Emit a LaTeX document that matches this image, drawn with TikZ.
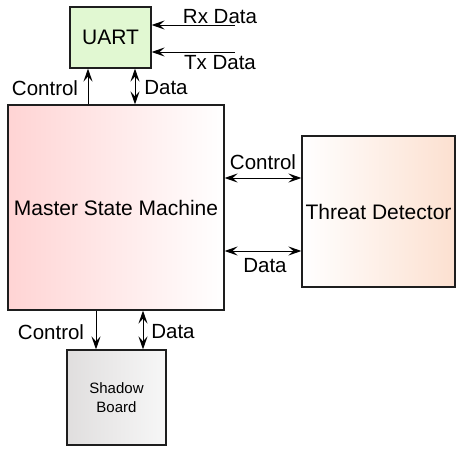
\documentclass[tikz,border=0pt]{standalone}
\usepackage{fontspec}
\setmainfont{Liberation Sans}
\usetikzlibrary{arrows.meta,calc}
\definecolor{uartfill}{RGB}{225,248,210}
\definecolor{msmleft}{RGB}{255,212,212}
\definecolor{tdright}{RGB}{252,224,208}
\definecolor{sbleft}{RGB}{224,222,222}
\definecolor{sbright}{RGB}{247,247,247}
\definecolor{edge}{RGB}{30,30,30}
\tikzset{
  block/.style={draw=edge, line width=1.2pt, inner sep=0pt, align=center,
    font=\fontsize{21}{24}\selectfont},
  lbl/.style={inner sep=0pt, anchor=center, font=\fontsize{20.5}{23}\selectfont},
  headsize/.style={length=13pt,width=9pt,inset=5pt},
  sig/.style={line width=1pt, draw=black,
    arrows={-Stealth[length=13pt,width=9pt,inset=5pt]}},
  bisig/.style={line width=1pt, draw=black,
    arrows={Stealth[length=13pt,width=9pt,inset=5pt]-Stealth[length=13pt,width=9pt,inset=5pt]}}
}
\begin{document}
\begin{tikzpicture}[x=1pt,y=-1pt]
\useasboundingbox (0,0) rectangle (456,450);

% blocks
\node[block, fill=uartfill, minimum width=81pt, minimum height=61pt] (uart) at (110.5,37.5) {UART};
\node[block, left color=msmleft, right color=white, minimum width=216pt, minimum height=205pt] (msm) at (116,207.5) {Master State Machine};
\node[block, left color=white, right color=tdright, minimum width=153pt, minimum height=151pt] (td) at (378.5,211.5) {Threat Detector};
\node[block, left color=sbleft, right color=sbright, minimum width=99pt, minimum height=95pt,
  font=\fontsize{15}{19.5}\selectfont] (sb) at (116.5,397.5) {Shadow\\Board};

% serial lines into the UART
\coordinate (rx) at (235,25);
\coordinate (tx) at (235,52);
\draw[sig] (rx) -- (rx -| uart.east);
\draw[sig] (tx) -- (tx -| uart.east);
\node[lbl] (rxl) at (220,17) {Rx Data};
\node[lbl] (txl) at (220,63) {Tx Data};

% master state machine <-> UART
\coordinate (uc) at (88,0);
\coordinate (ud) at (135,0);
\draw[sig] (uc |- msm.north) -- (uc |- uart.south);
\draw[bisig] (ud |- msm.north) -- (ud |- uart.south);
\node[lbl] (ucl) at (45,88) {Control};
\node[lbl] (udl) at (166,88) {Data};

% master state machine <-> threat detector
\coordinate (tc) at (0,178);
\coordinate (tdd) at (0,251);
\draw[bisig] (tc -| msm.east) -- (tc -| td.west);
\draw[bisig] (tdd -| msm.east) -- (tdd -| td.west);
\node[lbl] (tcl) at (263,162) {Control};
\node[lbl] (tdl) at (265,266) {Data};

% master state machine <-> shadow board
\coordinate (sc) at (96,0);
\coordinate (sd) at (143,0);
\draw[sig] (sc |- msm.south) -- (sc |- sb.north);
\draw[bisig] (sd |- msm.south) -- (sd |- sb.north);
\node[lbl] (scl) at (51,332) {Control};
\node[lbl] (sdl) at (173,332) {Data};
\end{tikzpicture}
\end{document}
